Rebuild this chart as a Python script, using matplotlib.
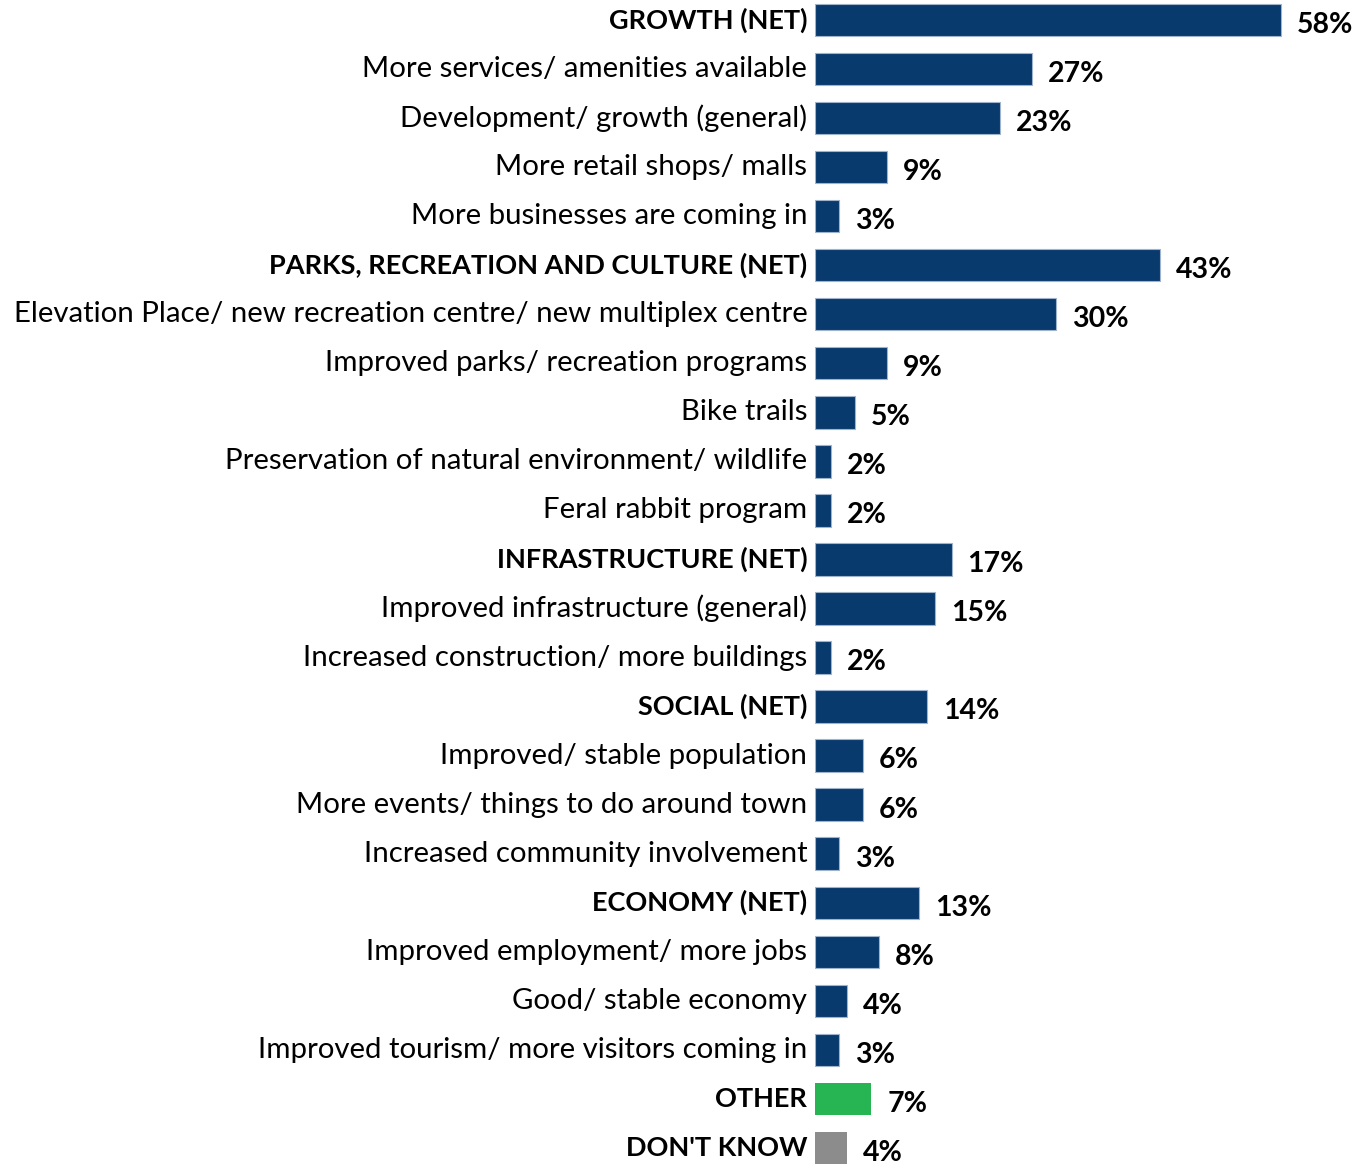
import matplotlib.pyplot as plt

plt.rcParams['font.family'] = ['Lato', 'DejaVu Sans']

labels = [
    "GROWTH (NET)",
    "More services/ amenities available",
    "Development/ growth (general)",
    "More retail shops/ malls",
    "More businesses are coming in",
    "PARKS, RECREATION AND CULTURE (NET)",
    "Elevation Place/ new recreation centre/ new multiplex centre",
    "Improved parks/ recreation programs",
    "Bike trails",
    "Preservation of natural environment/ wildlife",
    "Feral rabbit program",
    "INFRASTRUCTURE (NET)",
    "Improved infrastructure (general)",
    "Increased construction/ more buildings",
    "SOCIAL (NET)",
    "Improved/ stable population",
    "More events/ things to do around town",
    "Increased community involvement",
    "ECONOMY (NET)",
    "Improved employment/ more jobs",
    "Good/ stable economy",
    "Improved tourism/ more visitors coming in",
    "OTHER",
    "DON'T KNOW",
]
values = [58, 27, 23, 9, 3, 43, 30, 9, 5, 2, 2, 17, 15, 2, 14, 6, 6, 3, 13, 8, 4, 3, 7, 4]
bold_rows = {0, 5, 11, 14, 18, 22, 23}

navy = "#083a6e"
colors = [navy] * 22 + ["#27b452", "#8c8c8c"]
edges = ["#9fb4cc"] * 22 + ["none", "none"]

W, H = 1357, 1165
fig = plt.figure(figsize=(W / 100, H / 100), dpi=100)

# axes placed in pixel terms: zero line at x=815, rows 49 px apart from y=20
x0 = 815
px_per_pct = 8.03
row = 49.04
top_px = 20 - row / 2
bottom_px = 20 + row * 23 + row / 2
ax = fig.add_axes([x0 / W, (H - bottom_px) / H, (W - x0) / W, (bottom_px - top_px) / H])

n = len(values)
ys = list(range(n))
ax.barh(ys, values, height=0.66, color=colors, edgecolor=edges, linewidth=0.8)
ax.set_xlim(0, (W - x0) / px_per_pct)
ax.set_ylim(n - 0.5, -0.5)
ax.axis("off")

for i, (lab, v) in enumerate(zip(labels, values)):
    bold = i in bold_rows
    ax.annotate(lab, (0, i), xytext=(-5.5, 0), textcoords="offset points",
                ha="right", va="center", fontsize=19.5 if bold else 21.2,
                fontweight="bold" if bold else "normal")
    ax.annotate(f"{v}%", (v, i), xytext=(11.5, -3.5), textcoords="offset points",
                ha="left", va="center", fontsize=20.5, fontweight="bold")

fig.savefig("out.png", dpi=100)
